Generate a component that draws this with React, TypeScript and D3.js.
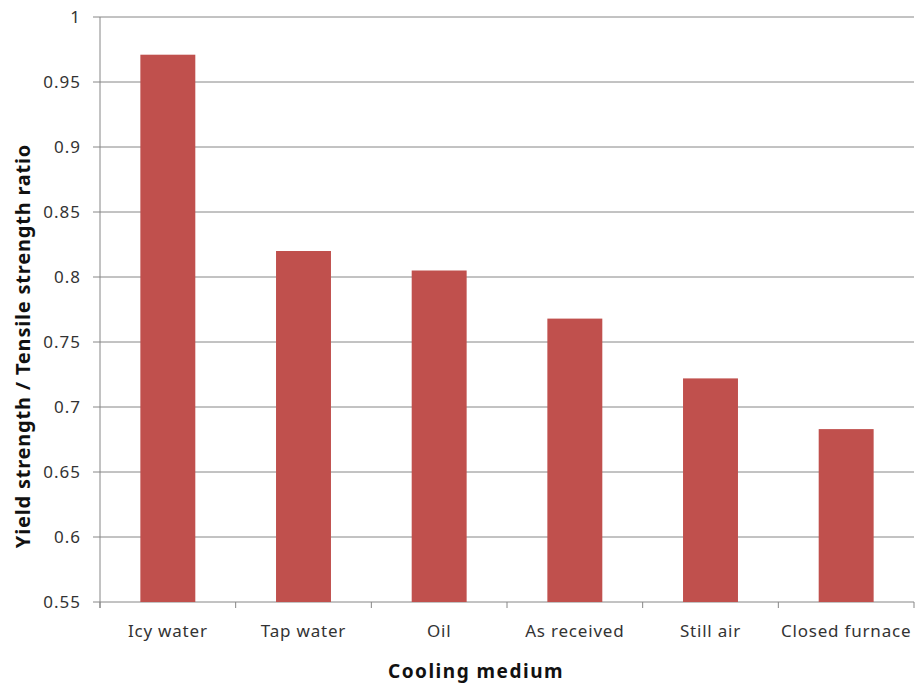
import React from "react";
import * as d3 from "d3";

const categories = ["Icy water", "Tap water", "Oil", "As received", "Still air", "Closed furnace"];
const ratios = [0.971, 0.82, 0.805, 0.768, 0.722, 0.683];
const yTicks = [0.55, 0.6, 0.65, 0.7, 0.75, 0.8, 0.85, 0.9, 0.95, 1];
const yTickLabels = ["0.55", "0.6", "0.65", "0.7", "0.75", "0.8", "0.85", "0.9", "0.95", "1"];

const W = 915, H = 686;
const M = { left: 100, right: 1, top: 17, bottom: 84 };
const FONT = "'Noto Sans', 'Open Sans', sans-serif";

export default function App() {
  const x = d3.scaleBand().domain(categories).range([M.left, W - M.right]).paddingInner(0.595).paddingOuter(0.2975);
  const y = d3.scaleLinear().domain([0.55, 1]).range([H - M.bottom, M.top]);
  const band = (W - M.right - M.left) / categories.length;
  const grid = "#868686";
  return (
    <svg width={W} height={H} style={{ position: "absolute", left: 0, top: 0, background: "#fff" }}>
      {yTicks.map((t, i) => (
        <g key={t}>
          <line x1={M.left - 7} x2={W - M.right} y1={y(t)} y2={y(t)} stroke={grid} strokeWidth={1} />
          <text x={M.left - 19} y={y(t)} dy="0.36em" textAnchor="end" fontFamily={FONT} fontSize={17} letterSpacing={1} fill="#333">{yTickLabels[i]}</text>
        </g>
      ))}
      {categories.map((c, i) => (
        <rect key={c} x={x(c)} y={y(ratios[i])} width={x.bandwidth()} height={y(0.55) - y(ratios[i])} fill="#C0504D" />
      ))}
      <line x1={M.left} x2={M.left} y1={M.top} y2={y(0.55) + 6} stroke={grid} />
      {d3.range(categories.length + 1).map(i => (
        <line key={i} x1={M.left + i * band} x2={M.left + i * band} y1={y(0.55)} y2={y(0.55) + 6} stroke={grid} />
      ))}
      {categories.map(c => (
        <text key={c} x={x(c)! + x.bandwidth() / 2} y={637} textAnchor="middle" fontFamily={FONT} fontSize={17} letterSpacing={0.8} fill="#333">{c}</text>
      ))}
      <text x={476} y={678} textAnchor="middle" fontFamily={FONT} fontSize={19} letterSpacing={1.5} fontWeight="bold" fill="#111">Cooling medium</text>
      <text transform={`translate(30, 346) rotate(-90)`} textAnchor="middle" fontFamily={FONT} fontSize={20} letterSpacing={0.8} fontWeight="bold" fill="#111">Yield strength / Tensile strength ratio</text>
    </svg>
  );
}
